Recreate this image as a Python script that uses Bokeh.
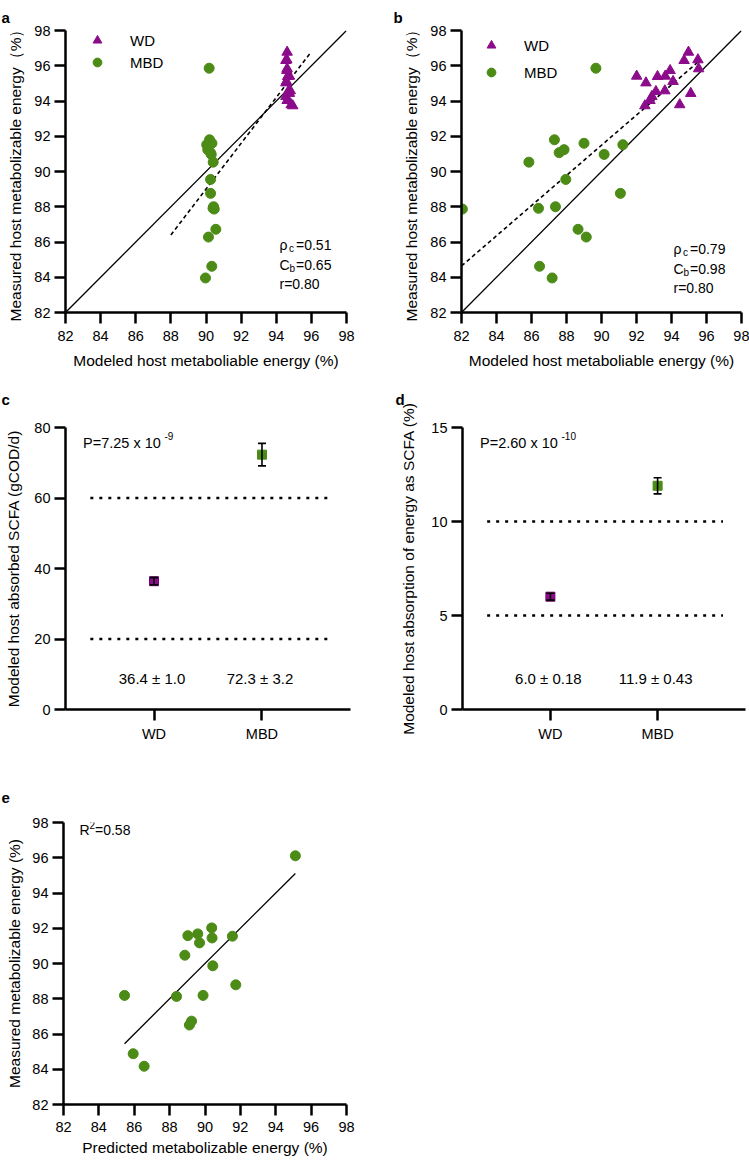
from bokeh.plotting import figure
from bokeh.models import (Range1d, FactorRange, FixedTicker, Label, Legend,
                          LegendItem, ColumnDataSource, Title)
from bokeh.layouts import column, row
from bokeh.embed import file_html
from bokeh.resources import INLINE
from bokeh.core.properties import value

FONT = "Liberation Sans"
PURPLE = "#8B0B8B"
PURPLE_EDGE = "#6E066E"
GREEN = "#4B8B16"

# ---------------- data ----------------
axis_ticks = [82, 84, 86, 88, 90, 92, 94, 96, 98]
identity = [82, 98]

# WD (triangles)
wd_measured = [96.77, 96.30, 96.34, 95.83, 95.41, 95.03, 95.39, 95.41, 95.73,
               95.11, 94.54, 94.58, 94.26, 94.03, 93.73, 94.43, 93.79]
wd_modeled_a = [94.62, 94.55, 94.60, 94.62, 94.70, 94.55, 94.65, 94.75, 94.60,
                94.58, 94.68, 94.80, 94.55, 94.62, 94.94, 94.75, 94.85]
wd_modeled_b = [94.97, 94.72, 95.51, 95.55, 92.01, 92.54, 93.20, 93.64, 93.92,
                94.09, 93.11, 93.62, 92.88, 92.77, 92.48, 95.10, 94.47]

# MBD (circles)
mbd_measured = [95.86, 91.80, 91.07, 91.24, 91.60, 90.97, 91.52, 90.53, 89.55,
                88.76, 87.87, 87.91, 88.00, 86.72, 86.28, 84.62, 83.96]
mbd_modeled_a = [90.18, 90.20, 90.25, 90.10, 90.34, 90.30, 90.04, 90.41, 90.26,
                 90.26, 90.47, 90.40, 90.43, 90.56, 90.14, 90.33, 89.97]
mbd_modeled_b = [89.68, 87.31, 87.58, 87.86, 89.00, 90.15, 91.22, 85.85, 87.96,
                 91.08, 82.05, 86.40, 87.37, 88.66, 89.13, 86.46, 87.18]

fit_a_x = [88.0, 96.0]
fit_a_y = [86.4, 96.8]
fit_b_x = [82.0, 95.5]
fit_b_y = [84.64, 96.2]

stats_a = ["0.51", "0.65", "0.80"]
stats_b = ["0.79", "0.98", "0.80"]

# panels c / d
diets = ["WD", "MBD"]
scfa_mean = [36.4, 72.3]
scfa_err = [1.0, 3.2]
scfa_text = ["36.4 \u00b1 1.0", "72.3 \u00b1 3.2"]
scfa_ref = [20, 60]
scfa_ticks = [0, 20, 40, 60, 80]

energy_mean = [6.0, 11.9]
energy_err = [0.18, 0.43]
energy_text = ["6.0 \u00b1 0.18", "11.9 \u00b1 0.43"]
energy_ref = [5, 10]
energy_ticks = [0, 5, 10, 15]

# panel e
pred_x = [95.11, 85.45, 85.94, 86.56, 88.39, 88.86, 89.03, 89.59, 89.69,
          90.38, 90.40, 90.44, 89.89, 89.24, 89.12, 91.55, 91.74]
meas_y = [96.11, 88.19, 84.88, 84.17, 88.13, 90.47, 91.58, 91.68, 91.17,
          92.02, 91.45, 89.87, 88.19, 86.73, 86.51, 91.55, 88.79]
fit_e_x = [85.45, 95.11]
fit_e_y = [85.45, 95.11]


# ---------------- helpers ----------------
def make_fig(width, height, left, right, top, bottom, x_range, y_range,
             letter, letter_offset, spacer_px):
    p = figure(width=width, height=height, x_range=x_range, y_range=y_range,
               output_backend="svg", toolbar_location=None,
               min_border_left=left, min_border_right=right,
               min_border_top=top, min_border_bottom=bottom)
    p.outline_line_color = None
    p.xgrid.grid_line_color = None
    p.ygrid.grid_line_color = None
    for ax in p.axis:
        ax.axis_line_width = 2.5
        ax.axis_line_color = "black"
        ax.major_tick_line_width = 2.5
        ax.major_tick_line_color = "black"
        ax.major_tick_out = 11
        ax.major_tick_in = 0
        ax.minor_tick_line_color = None
        ax.major_label_text_font = FONT
        ax.major_label_text_font_size = "14.5px"
        ax.major_label_text_color = "black"
        ax.axis_label_text_font = FONT
        ax.axis_label_text_font_size = "15.5px"
        ax.axis_label_text_font_style = "normal"
        ax.axis_label_text_color = "black"
    p.yaxis.major_label_standoff = 4
    # panel letter
    p.title.text = letter
    p.title.align = "left"
    p.title.offset = letter_offset
    p.title.text_font = FONT
    p.title.text_font_size = "15px"
    p.title.text_font_style = "bold"
    p.title.text_color = "black"
    if spacer_px:
        # blank spacer between the frame and the panel letter
        p.add_layout(Title(text=" ", text_font_size=f"{spacer_px}px"), "above")
    return p


def add_text(p, x, y, text, size="14px"):
    p.add_layout(Label(x=x, y=y, x_units="screen", y_units="screen", text=text,
                       text_font=FONT, text_font_size=size,
                       text_baseline="middle", text_align="left",
                       text_color="black"))


def add_stats(p, x, y0, vals):
    # rho_c, C_b, r lines
    ys = [y0, y0 - 20, y0 - 39]
    add_text(p, x, ys[0], "\u03c1")
    add_text(p, x + 9.5, ys[0] - 4, "c", size="10px")
    add_text(p, x + 16.5, ys[0], "=" + vals[0])
    add_text(p, x, ys[1], "C")
    add_text(p, x + 10, ys[1] - 4, "b", size="10px")
    add_text(p, x + 16.5, ys[1], "=" + vals[1])
    add_text(p, x, ys[2], "r=" + vals[2])


def scatter_panel(width, left, right, wd_x, mbd_x, fit_x, fit_y, stats,
                  stats_xy, legend_xy, legend_spacing, legend_standoff,
                  letter, letter_offset):
    p = make_fig(width, 380, left, right, 30, 68,
                 Range1d(82, 98), Range1d(82, 98), letter, letter_offset, 0)
    p.xaxis.ticker = FixedTicker(ticks=axis_ticks)
    p.yaxis.ticker = FixedTicker(ticks=axis_ticks)
    p.xaxis.axis_label = "Modeled host metaboliable energy (%)"
    p.yaxis.axis_label = "Measured host metabolizable energy\uff08%\uff09"
    p.xaxis.major_label_standoff = 7
    p.xaxis.axis_label_standoff = 8
    p.yaxis.axis_label_standoff = 7
    p.line(identity, identity, line_color="black", line_width=1.3)
    p.line(fit_x, fit_y, line_color="black", line_width=1.6, line_dash="4 3")
    r_wd = p.scatter(wd_x, wd_measured, marker="triangle", size=10.5,
                     fill_color=PURPLE, line_color=PURPLE)
    r_mbd = p.scatter(mbd_x, mbd_measured, marker="circle", size=10,
                      fill_color=GREEN, line_color=GREEN)
    leg = Legend(items=[LegendItem(label="WD", renderers=[r_wd]),
                        LegendItem(label="MBD", renderers=[r_mbd])],
                 location=legend_xy, orientation="vertical",
                 glyph_width=22, glyph_height=22, spacing=legend_spacing,
                 label_standoff=legend_standoff, padding=0, margin=0,
                 border_line_color=None, background_fill_alpha=0,
                 label_text_font=FONT, label_text_font_size="15px",
                 label_text_color="black")
    p.add_layout(leg)
    add_stats(p, stats_xy[0], stats_xy[1], stats)
    return p


# ---------------- panel a / b ----------------
pa = scatter_panel(375, 65, 29, wd_modeled_a, mbd_modeled_a, fit_a_x, fit_a_y,
                   stats_a, (214, 68), (21, 239), 0, 22, "a", -64)
pb = scatter_panel(374, 86, 8, wd_modeled_b, mbd_modeled_b, fit_b_x, fit_b_y,
                   stats_b, (212, 64), (19, 229), 5, 22, "b", -68)


# ---------------- panel c / d ----------------
def mean_panel(width, left, right, means, errs, texts, refs, ticks, ymax,
               text_y, ylabel, pexp_main, pexp_sup, letter, letter_offset,
               yl_standoff):
    p = make_fig(width, 395, left, right, 47, 66,
                 FactorRange(factors=diets, range_padding=0.32,
                             range_padding_units="absolute"),
                 Range1d(0, ymax), letter, letter_offset, 3)
    p.yaxis.ticker = FixedTicker(ticks=ticks)
    p.yaxis.axis_label = ylabel
    p.yaxis.axis_label_standoff = yl_standoff
    p.xaxis.major_label_standoff = 5
    src = ColumnDataSource(dict(
        cat=diets, mean=means,
        lo=[m - e for m, e in zip(means, errs)],
        hi=[m + e for m, e in zip(means, errs)],
        txt=texts, ty=[text_y] * len(diets),
        fc=[PURPLE, GREEN], lc=[PURPLE_EDGE, GREEN]))
    for ref in refs:
        p.segment(x0=-0.09, x1=2.11, y0=ref, y1=ref, line_color="black",
                  line_width=2.6, line_dash="3 6")
    p.scatter(x="cat", y="mean", source=src, marker="square", size=9,
              fill_color="fc", line_color="lc")
    p.segment(x0="cat", x1="cat", y0="lo", y1="hi", source=src,
              line_color="black", line_width=1.6)
    p.scatter(x="cat", y="lo", source=src, marker="dash", size=8,
              line_color="black", line_width=1.6)
    p.scatter(x="cat", y="hi", source=src, marker="dash", size=8,
              line_color="black", line_width=1.6)
    p.text(x="cat", y="ty", text="txt", source=src, x_offset=-2,
           text_align="center", text_baseline="middle",
           text_font=value(FONT), text_font_size="15px", text_color="black")
    add_text(p, 17.5, 267, pexp_main, size="14.5px")
    add_text(p, 17.5 + 81.5, 274, pexp_sup, size="10px")
    return p


pc = mean_panel(375, 65, 25, scfa_mean, scfa_err, scfa_text, scfa_ref,
                scfa_ticks, 80, 8.8, "Modeled host absorbed SCFA (gCOD/d)",
                "P=7.25 x 10", "-9", "c", -64, 9)
pd_ = mean_panel(374, 87, 4, energy_mean, energy_err, energy_text, energy_ref,
                 energy_ticks, 15, 1.65,
                 "Modeled host absorption of energy as SCFA (%)",
                 "P=2.60 x 10", "-10", "d", -67, 11)

# ---------------- panel e ----------------
pe = make_fig(375, 385, 63, 29, 47, 56, Range1d(82, 98), Range1d(82, 98),
              "e", -62, 3)
pe.xaxis.ticker = FixedTicker(ticks=axis_ticks)
pe.yaxis.ticker = FixedTicker(ticks=axis_ticks)
pe.xaxis.axis_label = "Predicted metabolizable energy (%)"
pe.yaxis.axis_label = "Measured metabolizable energy (%)"
pe.xaxis.major_label_standoff = 6
pe.xaxis.axis_label_standoff = 4
pe.yaxis.axis_label_standoff = 6
pe.line(fit_e_x, fit_e_y, line_color="black", line_width=1.3)
pe.scatter(pred_x, meas_y, marker="circle", size=10, fill_color=GREEN,
           line_color=GREEN)
add_text(pe, 16, 275, "R")
add_text(pe, 26, 280, "2", size="10px")
add_text(pe, 31.5, 275, "=0.58")

layout = column(row(pa, pb), row(pc, pd_), pe)
open("out.html", "w").write(file_html(layout, INLINE))
